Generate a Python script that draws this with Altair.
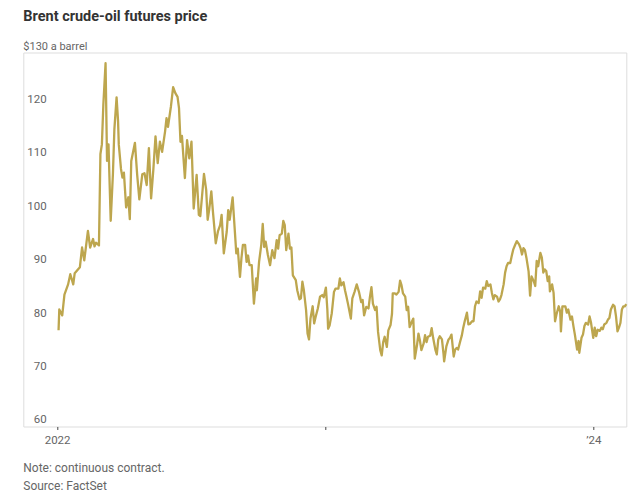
import altair as alt
import pandas as pd

# ---- data ----
dates = [
    "2022-01-03", "2022-01-04", "2022-01-08", "2022-01-11", "2022-01-16", "2022-01-19", "2022-01-23", "2022-01-25",
    "2022-02-01", "2022-02-04", "2022-02-07", "2022-02-12", "2022-02-15", "2022-02-19", "2022-02-21", "2022-02-23", "2022-02-27",
    "2022-03-01", "2022-03-03", "2022-03-05", "2022-03-08", "2022-03-10", "2022-03-12", "2022-03-15", "2022-03-18", "2022-03-20",
    "2022-03-23", "2022-03-25", "2022-03-26", "2022-03-29", "2022-03-31",
    "2022-04-02", "2022-04-05", "2022-04-08", "2022-04-10", "2022-04-12", "2022-04-17", "2022-04-20", "2022-04-23", "2022-04-27", "2022-04-30",
    "2022-05-03", "2022-05-06", "2022-05-09", "2022-05-12", "2022-05-15", "2022-05-18", "2022-05-21", "2022-05-24", "2022-05-28", "2022-05-30",
    "2022-06-01", "2022-06-05", "2022-06-08", "2022-06-11", "2022-06-14", "2022-06-16", "2022-06-18", "2022-06-20", "2022-06-24", "2022-06-27", "2022-06-30",
    "2022-07-03", "2022-07-06", "2022-07-10", "2022-07-13", "2022-07-15", "2022-07-20", "2022-07-23", "2022-07-25", "2022-07-27", "2022-07-30",
    "2022-08-01", "2022-08-05", "2022-08-08", "2022-08-11", "2022-08-13", "2022-08-16", "2022-08-20", "2022-08-22", "2022-08-24", "2022-08-28", "2022-08-30",
    "2022-09-02", "2022-09-04", "2022-09-07", "2022-09-09", "2022-09-11", "2022-09-14", "2022-09-16", "2022-09-18", "2022-09-20", "2022-09-23",
    "2022-09-26", "2022-09-29", "2022-09-30",
    "2022-10-03", "2022-10-06", "2022-10-08", "2022-10-10", "2022-10-12", "2022-10-15", "2022-10-18", "2022-10-21", "2022-10-24", "2022-10-27",
    "2022-10-29", "2022-10-31",
    "2022-11-03", "2022-11-05", "2022-11-07", "2022-11-09", "2022-11-12", "2022-11-14", "2022-11-16", "2022-11-18", "2022-11-22", "2022-11-24",
    "2022-11-27", "2022-11-29",
    "2022-12-01", "2022-12-03", "2022-12-06", "2022-12-08", "2022-12-10", "2022-12-12", "2022-12-15", "2022-12-17", "2022-12-19", "2022-12-22",
    "2022-12-25", "2022-12-28", "2022-12-30",
    "2023-01-02", "2023-01-04", "2023-01-05", "2023-01-07", "2023-01-10", "2023-01-13", "2023-01-15", "2023-01-19", "2023-01-21", "2023-01-23",
    "2023-01-26", "2023-01-28", "2023-01-30",
    "2023-02-01", "2023-02-05", "2023-02-07", "2023-02-10", "2023-02-13", "2023-02-16", "2023-02-19", "2023-02-21", "2023-02-23", "2023-02-26",
    "2023-03-01", "2023-03-03", "2023-03-05", "2023-03-07", "2023-03-10", "2023-03-12", "2023-03-14", "2023-03-17", "2023-03-19", "2023-03-21",
    "2023-03-23", "2023-03-26", "2023-03-28", "2023-03-31",
    "2023-04-02", "2023-04-03", "2023-04-06", "2023-04-08", "2023-04-11", "2023-04-13", "2023-04-15", "2023-04-17", "2023-04-20", "2023-04-22",
    "2023-04-24", "2023-04-26", "2023-04-29",
    "2023-05-01", "2023-05-03", "2023-05-06", "2023-05-08", "2023-05-10", "2023-05-12", "2023-05-15", "2023-05-17", "2023-05-19", "2023-05-21",
    "2023-05-24", "2023-05-26", "2023-05-28", "2023-05-31",
    "2023-06-02", "2023-06-04", "2023-06-06", "2023-06-09", "2023-06-11", "2023-06-12", "2023-06-15", "2023-06-18", "2023-06-20", "2023-06-22",
    "2023-06-25", "2023-06-27", "2023-06-29",
    "2023-07-01", "2023-07-04", "2023-07-06", "2023-07-08", "2023-07-10", "2023-07-13", "2023-07-15", "2023-07-17", "2023-07-20", "2023-07-22",
    "2023-07-24", "2023-07-26", "2023-07-29", "2023-07-31",
    "2023-08-02", "2023-08-04", "2023-08-07", "2023-08-09", "2023-08-11", "2023-08-14", "2023-08-16", "2023-08-18", "2023-08-20", "2023-08-23",
    "2023-08-25", "2023-08-27", "2023-08-29",
    "2023-09-01", "2023-09-03", "2023-09-05", "2023-09-07", "2023-09-10", "2023-09-12", "2023-09-14", "2023-09-17", "2023-09-19", "2023-09-22",
    "2023-09-24", "2023-09-26", "2023-09-28", "2023-09-30",
    "2023-10-02", "2023-10-05", "2023-10-07", "2023-10-09", "2023-10-12", "2023-10-14", "2023-10-16", "2023-10-18", "2023-10-21", "2023-10-23",
    "2023-10-25", "2023-10-27", "2023-10-29", "2023-10-31",
    "2023-11-02", "2023-11-03", "2023-11-06", "2023-11-08", "2023-11-10", "2023-11-12", "2023-11-15", "2023-11-17", "2023-11-18", "2023-11-20",
    "2023-11-24", "2023-11-26", "2023-11-28",
    "2023-12-01", "2023-12-03", "2023-12-05", "2023-12-07", "2023-12-10", "2023-12-12", "2023-12-13", "2023-12-16", "2023-12-18", "2023-12-20",
    "2023-12-22", "2023-12-25", "2023-12-27", "2023-12-29",
    "2024-01-01", "2024-01-03", "2024-01-05", "2024-01-07", "2024-01-10", "2024-01-12", "2024-01-14", "2024-01-16", "2024-01-19", "2024-01-21",
    "2024-01-23", "2024-01-25", "2024-01-28", "2024-01-30",
    "2024-02-01", "2024-02-03", "2024-02-05", "2024-02-07", "2024-02-09", "2024-02-11", "2024-02-13", "2024-02-15",
]

prices = [
    78.0, 81.9, 80.8, 84.7, 86.6, 88.5, 86.6, 88.7,
    89.8, 93.5, 91.1, 96.6, 93.5, 95.1, 93.7, 94.4, 93.9,
    111.0, 112.8, 120.3, 128.0, 109.7, 112.8, 98.5, 107.2, 115.6, 121.6, 117.2, 112.8, 108.2, 106.6,
    107.5, 101.0, 102.9, 98.8, 109.7, 113.1, 107.2, 102.5, 107.2, 107.4,
    105.2, 112.1, 102.7, 108.0, 114.3, 109.3, 113.3, 111.4, 115.2, 117.7,
    116.1, 119.9, 123.5, 122.4, 121.7, 119.6, 113.3, 114.4, 106.5, 113.6, 110.2,
    113.3, 100.8, 107.1, 99.6, 99.4, 107.3, 104.3, 98.7, 100.5, 104.0,
    100.5, 94.3, 96.5, 97.7, 99.6, 92.4, 96.5, 100.5, 98.7, 102.9, 98.7,
    92.4, 93.3, 88.0, 91.5, 94.0, 94.0, 90.8, 92.0, 90.2, 90.2, 83.0, 87.7, 85.5,
    90.8, 94.0, 97.9, 93.6, 94.6, 92.1, 90.2, 93.0, 91.5, 94.9, 93.3, 95.8,
    96.1, 98.5, 97.7, 93.0, 96.1, 93.3, 93.5, 88.3, 87.4, 85.5, 83.8, 84.0,
    87.1, 85.5, 81.8, 77.4, 76.3, 80.2, 82.5, 79.3, 80.5, 82.1, 84.3, 84.6, 84.2,
    86.0, 81.8, 78.3, 78.9, 81.2, 85.2, 85.8, 85.8, 87.7, 86.4, 87.0, 85.5, 84.3,
    83.0, 80.2, 84.0, 85.2, 86.6, 85.2, 83.3, 83.7, 80.8, 82.4,
    82.1, 84.3, 86.1, 83.0, 81.8, 82.4, 77.7, 74.3, 73.3, 75.8, 76.8, 74.9, 78.0, 79.0,
    81.1, 84.9, 84.9, 84.7, 85.2, 87.3, 86.4, 84.9, 84.3, 81.8, 82.4, 78.6, 79.6,
    80.2, 72.7, 75.2, 77.4, 76.1, 74.3, 75.5, 77.1, 75.8, 76.8, 77.0, 78.4, 76.6, 74.4,
    73.5, 76.3, 76.9, 76.3, 73.8, 72.2, 75.0, 76.3, 76.6, 77.2, 73.1, 74.4, 74.7,
    74.4, 76.0, 77.0, 78.5, 79.7, 81.3, 79.1, 79.2, 79.7, 79.7, 82.5, 83.4, 83.1, 85.3,
    84.1, 86.0, 85.8, 87.2, 86.3, 86.6, 85.0, 83.8, 84.6, 84.3, 83.4, 83.8, 84.6,
    86.6, 88.8, 90.0, 90.6, 90.6, 91.9, 93.1, 94.1, 94.7, 94.1, 93.4, 92.2, 93.4, 93.0,
    91.6, 89.0, 84.5, 88.1, 87.2, 86.3, 91.0, 90.0, 92.5, 91.6, 88.8, 89.4, 89.1, 87.2,
    88.1, 85.3, 86.6, 85.0, 79.7, 81.0, 82.5, 81.5, 77.8, 82.5, 82.5, 81.3, 81.9,
    80.0, 80.6, 78.8, 77.2, 74.4, 76.0, 73.8, 76.6, 77.2, 78.8, 79.4, 79.1, 80.6, 79.4,
    76.6, 78.5, 76.9, 78.1, 77.9, 78.5, 78.2, 79.1, 79.4, 80.0, 80.3, 81.9, 82.8, 82.5,
    80.6, 77.8, 78.5, 79.4, 81.9, 82.5, 82.5, 82.9,
]

grid_values = [130, 120, 110, 100, 90, 80, 70, 60]
grid_labels = ["$130 a barrel", "120", "110", "100", "90", "80", "70", "60"]
title_text = "Brent crude-oil futures price"
note_text = "Note: continuous contract."
source_text = "Source: FactSet"

assert len(dates) == len(prices)

df = pd.DataFrame({"date": dates, "price": prices})
lab_df = pd.DataFrame({"value": grid_values[1:], "label": grid_labels[1:]})
top_df = pd.DataFrame({"value": grid_values[:1], "label": grid_labels[:1]})

FONT = "Roboto"
LINE_COLOR = "#bda64e"
LABEL_COLOR = "#666666"

x_scale = alt.Scale(domain=[alt.DateTime(year=2021, month=11, date=16),
                            alt.DateTime(year=2024, month=2, date=15)])
y_scale = alt.Scale(domain=[60, 130], nice=False, zero=False)

x_axis = alt.Axis(
    values=[alt.DateTime(year=2022, month=1, date=1),
            alt.DateTime(year=2023, month=1, date=1),
            alt.DateTime(year=2024, month=1, date=1)],
    labelExpr="year(datum.value) == 2022 ? '2022' : (year(datum.value) == 2024 ? '\u201924' : '')",
    title=None, grid=False, domain=False,
    tickSize=3, tickColor="#444444", tickWidth=1,
    labelFont=FONT, labelFontSize=11.5, labelColor=LABEL_COLOR, labelPadding=5,
    labelFlush=False, labelOverlap=False,
)
y_axis = alt.Axis(values=grid_values, labels=False, ticks=False, domain=False,
                  grid=True, gridColor="#e2e2e2", gridWidth=1, title=None)

line = alt.Chart(df).mark_line(color=LINE_COLOR, strokeWidth=2.3, strokeJoin="round").encode(
    x=alt.X("date:T", scale=x_scale, axis=x_axis),
    y=alt.Y("price:Q", scale=y_scale, axis=y_axis),
)

ylabels = alt.Chart(lab_df).mark_text(
    align="right", baseline="alphabetic", dy=-3, font=FONT, fontSize=11.5, color=LABEL_COLOR
).encode(
    y=alt.Y("value:Q", scale=y_scale, axis=None),
    x=alt.value(23.4),
    text="label:N",
)

toplabel = alt.Chart(top_df).mark_text(
    align="left", baseline="alphabetic", dy=-3, font=FONT, fontSize=11, color=LABEL_COLOR
).encode(
    y=alt.Y("value:Q", scale=y_scale, axis=None),
    x=alt.value(0),
    text="label:N",
)

note = alt.Chart(pd.DataFrame({"t": [note_text]})).mark_text(
    align="left", baseline="middle", font=FONT, fontSize=12, color=LABEL_COLOR
).encode(x=alt.value(0), y=alt.value(415.5), text="t:N")

source = alt.Chart(pd.DataFrame({"t": [source_text]})).mark_text(
    align="left", baseline="middle", font=FONT, fontSize=12, color=LABEL_COLOR
).encode(x=alt.value(0), y=alt.value(433.5), text="t:N")

chart = alt.layer(line, ylabels, toplabel, note, source).properties(
    width=603,
    height=374,
    title=alt.Title(title_text, anchor="start", frame="group", font=FONT, fontSize=14.5,
                    fontWeight="bold", color="#333333", offset=16),
    autosize=alt.AutoSizeParams(type="none"),
    padding={"left": 15.3, "top": 44.5, "right": 5, "bottom": 68},
).configure_view(stroke=None).configure(background="white")

chart.save("out.html", embed_options={"renderer": "svg", "actions": False})
